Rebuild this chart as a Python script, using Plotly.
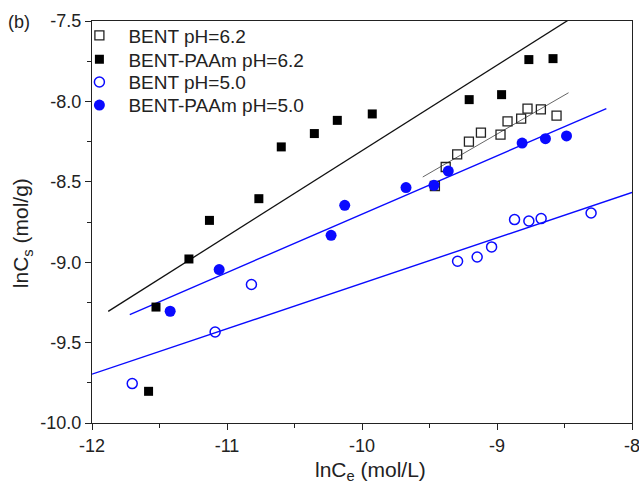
import numpy as np
import plotly.graph_objects as go

# ---- data ----
bent62_x = [-9.46, -9.38, -9.295, -9.208, -9.119, -8.974, -8.922, -8.821, -8.774, -8.675, -8.559]
bent62_y = [-8.526, -8.408, -8.329, -8.250, -8.194, -8.207, -8.124, -8.107, -8.045, -8.049, -8.088]

paam62_x = [-11.581, -11.526, -11.282, -11.130, -10.764, -10.598, -10.353, -10.183, -9.924, -9.206, -8.966, -8.764, -8.585]
paam62_y = [-9.803, -9.279, -8.980, -8.740, -8.605, -8.283, -8.200, -8.118, -8.078, -7.989, -7.958, -7.740, -7.734]

bent50_x = [-11.702, -11.088, -10.819, -9.292, -9.147, -9.040, -8.870, -8.764, -8.673, -8.303]
bent50_y = [-9.755, -9.434, -9.139, -8.994, -8.968, -8.905, -8.735, -8.744, -8.729, -8.694]

paam50_x = [-11.421, -11.058, -10.229, -10.128, -9.674, -9.467, -9.361, -8.814, -8.641, -8.485]
paam50_y = [-9.305, -9.046, -8.833, -8.646, -8.536, -8.522, -8.433, -8.259, -8.232, -8.215]

# x-extent of each linear fit line
fit_range_bent62 = [-9.55, -8.47]
fit_range_paam62 = [-11.88, -8.0]
fit_range_bent50 = [-12.0, -8.0]
fit_range_paam50 = [-11.72, -8.19]

names = ["BENT pH=6.2", "BENT-PAAm pH=6.2", "BENT pH=5.0", "BENT-PAAm pH=5.0"]

x_tickvals = [-12, -11, -10, -9, -8]
x_ticktext = ["-12", "-11", "-10", "-9", "-8"]
y_tickvals = [-10.0, -9.5, -9.0, -8.5, -8.0, -7.5]
y_ticktext = ["-10.0", "-9.5", "-9.0", "-8.5", "-8.0", "-7.5"]

BLUE = "#0a0aff"
FONT = "Arial, Liberation Sans, sans-serif"
INK = "#222222"


def fit_line(x, y, rng):
    k, b = np.polyfit(np.array(x), np.array(y), 1)
    xs = np.array(rng)
    return xs, k * xs + b


fig = go.Figure()

# fit lines (not in legend)
for (x, y, rng, col, w) in [
    (paam62_x, paam62_y, fit_range_paam62, "#111111", 1.3),
    (bent62_x, bent62_y, fit_range_bent62, "#666666", 1.0),
    (bent50_x, bent50_y, fit_range_bent50, BLUE, 1.4),
    (paam50_x, paam50_y, fit_range_paam50, BLUE, 1.4),
]:
    xs, ys = fit_line(x, y, rng)
    fig.add_trace(go.Scatter(x=xs, y=ys, mode="lines", line=dict(color=col, width=w),
                             showlegend=False, hoverinfo="skip"))

fig.add_trace(go.Scatter(x=bent62_x, y=bent62_y, mode="markers", name=names[0], legend="legend",
                         marker=dict(symbol="square-open", size=9, color=INK,
                                     line=dict(width=1.3, color=INK))))
fig.add_trace(go.Scatter(x=paam62_x, y=paam62_y, mode="markers", name=names[1], legend="legend2",
                         marker=dict(symbol="square", size=9, color="#000000",
                                     line=dict(width=0))))
fig.add_trace(go.Scatter(x=bent50_x, y=bent50_y, mode="markers", name=names[2], legend="legend3",
                         marker=dict(symbol="circle-open", size=10, color=BLUE,
                                     line=dict(width=1.5, color=BLUE))))
fig.add_trace(go.Scatter(x=paam50_x, y=paam50_y, mode="markers", name=names[3], legend="legend4",
                         marker=dict(symbol="circle", size=11, color=BLUE,
                                     line=dict(width=0))))

axis_common = dict(
    showgrid=False, zeroline=False, showline=True, mirror=True,
    linecolor=INK, linewidth=1.3,
    ticks="outside", ticklen=6, tickwidth=1.2, tickcolor=INK,
    tickfont=dict(family=FONT, size=18, color=INK),
    ticklabeloverflow="allow", automargin=False,
)

fig.update_xaxes(range=[-12, -8], tickmode="array", tickvals=x_tickvals, ticktext=x_ticktext,
                 minor=dict(dtick=0.5, ticklen=4, tickwidth=1.2,
                            tickcolor=INK, ticks="outside", showgrid=False),
                 **axis_common)
fig.update_yaxes(range=[-10, -7.5], tickmode="array", tickvals=y_tickvals, ticktext=y_ticktext,
                 minor=dict(dtick=0.25, ticklen=4, tickwidth=1.2,
                            tickcolor=INK, ticks="outside", showgrid=False),
                 **axis_common)


def leg(ypaper):
    return dict(x=-0.040, y=ypaper, xanchor="left", yanchor="middle",
                bgcolor="rgba(0,0,0,0)", borderwidth=0,
                font=dict(family=FONT, size=19, color=INK),
                itemwidth=48, tracegroupgap=0)


fig.update_layout(
    width=639, height=483,
    margin=dict(l=92, r=7, t=21, b=60, autoexpand=False),
    paper_bgcolor="white", plot_bgcolor="white",
    font=dict(family=FONT, size=18, color=INK),
    legend=leg(0.9637),
    legend2=leg(0.9047),
    legend3=leg(0.8478),
    legend4=leg(0.7906),
    annotations=[
        dict(text="lnC<sub>e</sub> (mol/L)", xref="paper", yref="paper",
             x=0.516, y=-0.120, xanchor="center", yanchor="middle", showarrow=False,
             font=dict(family=FONT, size=21, color=INK)),
        dict(text="lnC<sub>s</sub> (mol/g)", xref="paper", yref="paper",
             x=-0.129, y=0.473, xanchor="center", yanchor="middle", textangle=-90, showarrow=False,
             font=dict(family=FONT, size=21, color=INK)),
        dict(text="(b)", xref="paper", yref="paper",
             x=-0.135, y=0.997, xanchor="center", yanchor="middle", showarrow=False,
             font=dict(family=FONT, size=18, color=INK)),
    ],
)

fig.write_html("out.html")
